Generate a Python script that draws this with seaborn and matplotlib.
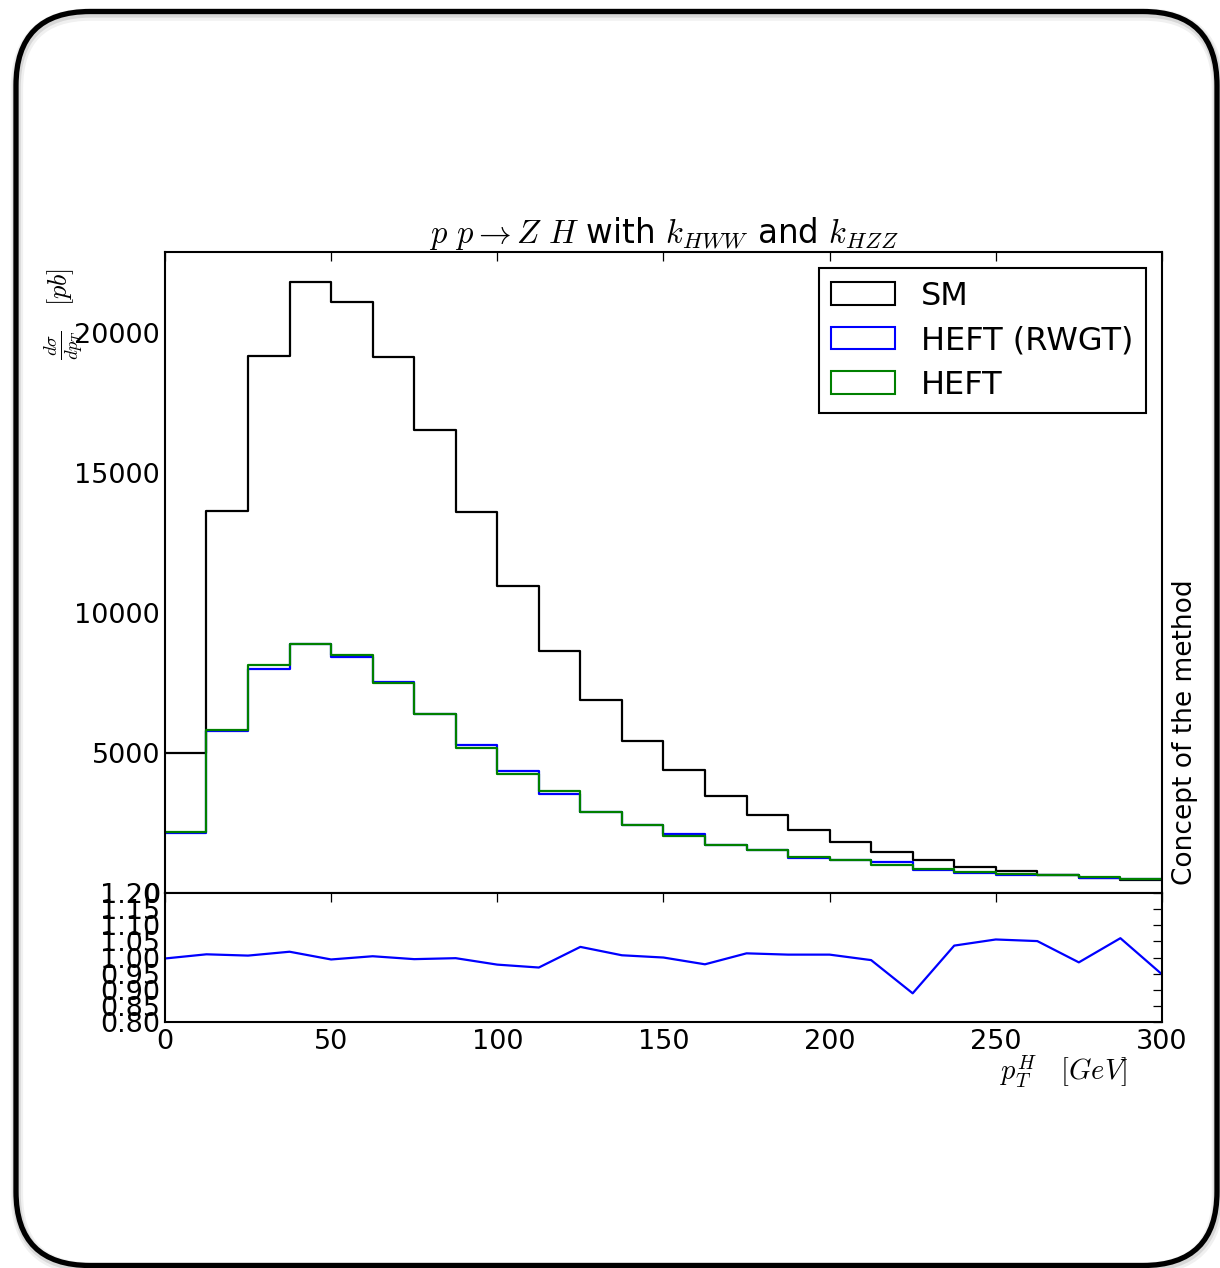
import numpy as np
import pandas as pd
import matplotlib
matplotlib.use("Agg")
import matplotlib.pyplot as plt
from matplotlib.patches import FancyBboxPatch, Patch
from matplotlib.transforms import IdentityTransform
import seaborn as sns

# ---------------- data ----------------
bin_edges = [0.0, 12.5, 25.0, 37.5, 50.0, 62.5, 75.0, 87.5, 100.0, 112.5, 125.0, 137.5,
             150.0, 162.5, 175.0, 187.5, 200.0, 212.5, 225.0, 237.5, 250.0, 262.5,
             275.0, 287.5, 300.0]
sm_values = [5020, 13640, 19180, 21820, 21110, 19140, 16540, 13610, 10960, 8630,
             6900, 5430, 4390, 3460, 2790, 2240, 1810, 1450, 1170, 920,
             800, 630, 535, 465]
heft_values = [2170, 5830, 8160, 8900, 8520, 7500, 6395, 5200, 4260, 3630,
               2905, 2430, 2050, 1720, 1540, 1274, 1167, 1000, 845, 750,
               690, 631, 560, 488]
rwgt_values = [2140, 5775, 8000, 8900, 8440, 7530, 6405, 5285, 4355, 3535,
               2890, 2430, 2095, 1700, 1525, 1262, 1176, 1125, 815, 710,
               657, 640, 528, 515]
ratio_x = bin_edges
ratio_values = [0.997, 1.010, 1.006, 1.018, 0.994, 1.004, 0.995, 0.998, 0.978, 0.969,
                1.033, 1.007, 1.000, 0.979, 1.013, 1.009, 1.009, 0.992, 0.889, 1.037,
                1.056, 1.051, 0.985, 1.060, 0.948]
series_names = ["SM", "HEFT (RWGT)", "HEFT"]
series_colors = ["black", "blue", "green"]
main_yticks = [0, 5000, 10000, 15000, 20000]
ratio_yticks = [0.80, 0.85, 0.90, 0.95, 1.00, 1.05, 1.10, 1.15, 1.20]
x_ticks = [0, 50, 100, 150, 200, 250, 300]

# ---------------- style ----------------
sns.set_style("white")
plt.rcParams["font.family"] = ["DejaVu Sans"]
plt.rcParams["mathtext.fontset"] = "cm"
plt.rcParams["text.color"] = "black"
plt.rcParams["xtick.color"] = "black"
plt.rcParams["ytick.color"] = "black"
plt.rcParams["axes.labelcolor"] = "black"

fig = plt.figure(figsize=(12.2, 12.68), dpi=100)

# rounded slide frame with soft shadow
for off, alpha, lw in [(3, 0.06, 9), (2, 0.10, 6)]:
    sh = FancyBboxPatch((16 + off * 0.3, 2.5 - off), 1201, 1254,
                        boxstyle="round,pad=0,rounding_size=74",
                        transform=IdentityTransform(), facecolor="none",
                        edgecolor="black", alpha=alpha, linewidth=lw, zorder=0)
    fig.patches.append(sh)
frame = FancyBboxPatch((16, 2.5), 1201, 1254,
                       boxstyle="round,pad=0,rounding_size=74",
                       transform=IdentityTransform(), facecolor="none",
                       edgecolor="black", linewidth=3.8, zorder=1)
fig.patches.append(frame)

ax = fig.add_axes([0.1352, 0.2957, 0.8172, 0.5055])
axr = fig.add_axes([0.1352, 0.1940, 0.8172, 0.1017])

edges_arr = np.asarray(bin_edges)
centers = (edges_arr[:-1] + edges_arr[1:]) / 2
for name, vals, col in zip(series_names, [sm_values, rwgt_values, heft_values], series_colors):
    df = pd.DataFrame({"x": centers, "w": np.asarray(vals, dtype=float)})
    sns.histplot(data=df, x="x", weights="w", bins=bin_edges, element="step",
                 fill=False, color=col, linewidth=1.6, ax=ax)

ax.set_xlim(0, 300)
ax.set_ylim(0, 22900)
ax.set_yticks(main_yticks)
ax.set_xticks(x_ticks)
ax.set_xlabel("")
ax.set_ylabel("")
ax.tick_params(axis="both", direction="in", top=True, right=False, length=6.5,
               width=0.9, labelsize=19.5, labelbottom=False)
for s in ax.spines.values():
    s.set_linewidth(1.5)
    s.set_color("black")

ax.set_title(r"$p\ p \rightarrow Z\ H$ with $k_{HWW}$ and $k_{HZZ}$", fontsize=23.5, pad=3)

handles = [Patch(facecolor="white", edgecolor=c, linewidth=1.5) for c in series_colors]
leg = ax.legend(handles, series_names, loc="upper right", fontsize=23,
                fancybox=False, framealpha=1, edgecolor="black",
                handlelength=2.0, handleheight=0.7, borderpad=0.4,
                labelspacing=0.42, handletextpad=0.8)
leg.get_frame().set_linewidth(1.5)

# ratio panel
rdf = pd.DataFrame({"x": ratio_x, "r": ratio_values})
sns.lineplot(data=rdf, x="x", y="r", color="blue", linewidth=1.6, ax=axr, sort=False)
axr.set_xlim(0, 300)
axr.set_ylim(0.80, 1.20)
axr.set_yticks(ratio_yticks)
axr.set_yticklabels([f"{v:.2f}" for v in ratio_yticks])
axr.set_xticks(x_ticks)
axr.set_xlabel("")
axr.set_ylabel("")
axr.tick_params(axis="both", direction="in", top=True, right=True, length=6.5,
                width=0.9, labelsize=19.5)
axr.tick_params(axis="x", pad=5)
for s in axr.spines.values():
    s.set_linewidth(1.5)
    s.set_color("black")

# labels
fig.text(0.053, 0.789, r"$\frac{d\sigma}{dp_T}\quad[pb]$", rotation=90,
         ha="center", va="top", fontsize=19)
fig.text(0.9246, 0.1546, r"$p_T^H\quad[GeV]$", ha="right", va="center", fontsize=20.5)
fig.text(0.971, 0.4227, "Concept of the method", rotation=90, ha="center",
         va="center", fontsize=19)

fig.savefig("out.png", dpi=100)
